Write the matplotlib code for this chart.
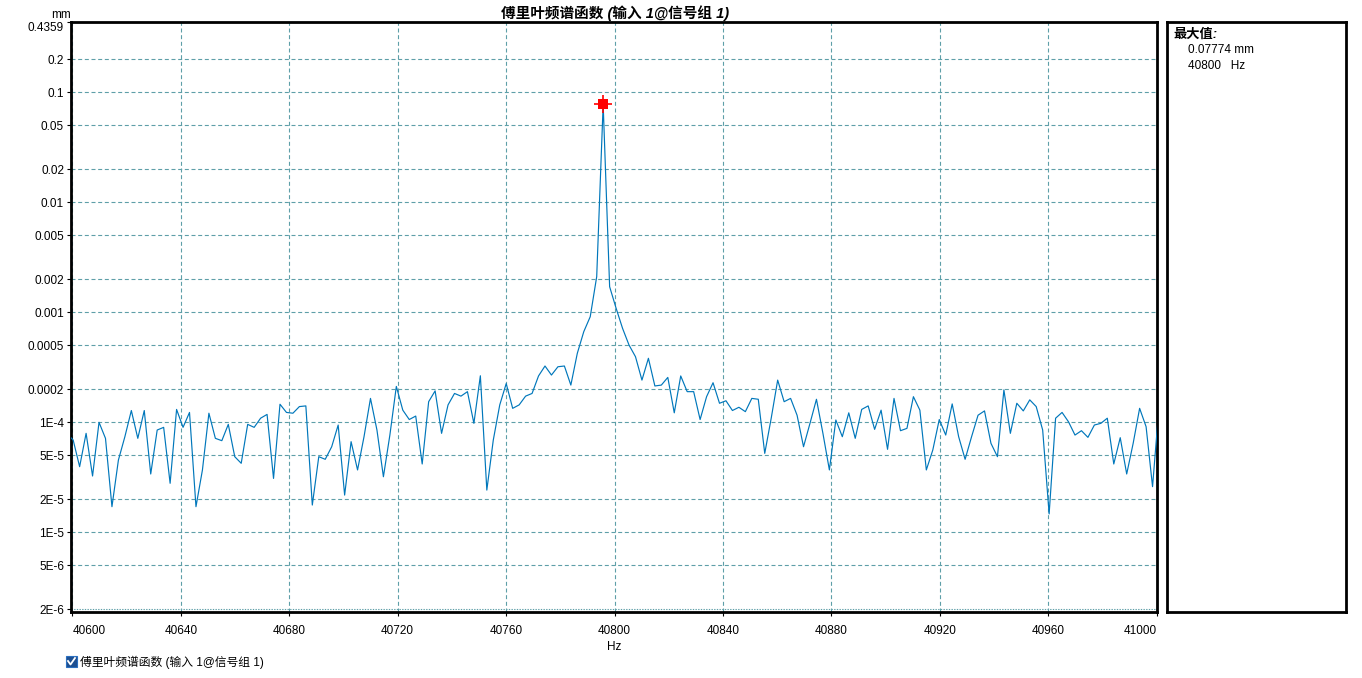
import numpy as np
import matplotlib
matplotlib.use("Agg")
import matplotlib.pyplot as plt
from matplotlib.patches import Rectangle
from matplotlib.lines import Line2D

FAMILY = ['Liberation Sans', 'Noto Sans CJK SC', 'DejaVu Sans']
plt.rcParams['font.family'] = FAMILY

# ---------------- data ----------------
bin_width_hz = 2.384185791015625
first_bin = 17028
amplitude_mm = [
    7.94e-5, 6.90e-5, 3.95e-5, 7.94e-5, 3.25e-5, 1.00e-4, 7.15e-5, 1.71e-5, 4.54e-5, 7.40e-5,
    1.28e-4, 7.15e-5, 1.28e-4, 3.39e-5, 8.51e-5, 9.00e-5, 2.79e-5, 1.31e-4, 9.00e-5, 1.23e-4,
    1.71e-5, 3.69e-5, 1.21e-4, 7.15e-5, 6.81e-5, 9.58e-5, 4.87e-5, 4.24e-5, 9.58e-5, 9.00e-5,
    1.09e-4, 1.18e-4, 3.09e-5, 1.46e-4, 1.23e-4, 1.21e-4, 1.39e-4, 1.41e-4, 1.77e-5, 4.87e-5,
    4.61e-5, 6.00e-5, 9.45e-5, 2.18e-5, 6.67e-5, 3.69e-5, 7.40e-5, 1.65e-4, 8.51e-5, 3.20e-5,
    7.66e-5, 2.12e-4, 1.29e-4, 1.06e-4, 1.14e-4, 4.18e-5, 1.54e-4, 1.93e-4, 7.94e-5, 1.44e-4,
    1.83e-4, 1.73e-4, 1.90e-4, 9.79e-5, 2.65e-4, 2.42e-5, 6.90e-5, 1.44e-4, 2.25e-4, 1.34e-4,
    1.44e-4, 1.73e-4, 1.83e-4, 2.64e-4, 3.25e-4, 2.69e-4, 3.20e-4, 3.25e-4, 2.18e-4, 4.24e-4,
    6.67e-4, 9.13e-4, 2.11e-3, 0.07774, 1.71e-3, 1.09e-3, 7.15e-4, 5.04e-4, 3.95e-4, 2.42e-4,
    3.82e-4, 2.14e-4, 2.18e-4, 2.56e-4, 1.22e-4, 2.64e-4, 1.90e-4, 1.90e-4, 1.06e-4, 1.71e-4,
    2.29e-4, 1.49e-4, 1.57e-4, 1.28e-4, 1.37e-4, 1.25e-4, 1.65e-4, 1.62e-4, 5.22e-5, 1.09e-4,
    2.42e-4, 1.54e-4, 1.65e-4, 1.16e-4, 6.00e-5, 9.79e-5, 1.62e-4, 7.94e-5, 3.69e-5, 1.05e-4,
    7.40e-5, 1.22e-4, 7.15e-5, 1.31e-4, 1.41e-4, 8.63e-5, 1.29e-4, 5.68e-5, 1.65e-4, 8.39e-5,
    8.81e-5, 1.71e-4, 1.29e-4, 3.69e-5, 5.60e-5, 1.06e-4, 7.66e-5, 1.47e-4, 7.40e-5, 4.61e-5,
    7.40e-5, 1.16e-4, 1.27e-4, 6.44e-5, 4.87e-5, 1.97e-4, 7.94e-5, 1.49e-4, 1.27e-4, 1.60e-4,
    1.39e-4, 8.51e-5, 1.47e-5, 1.09e-4, 1.23e-4, 1.01e-4, 7.66e-5, 8.39e-5, 7.30e-5, 9.45e-5,
    9.79e-5, 1.09e-4, 4.18e-5, 7.25e-5, 3.39e-5, 6.44e-5, 1.34e-4, 9.13e-5, 2.60e-5, 1.39e-4,
]
freq_hz = (first_bin + np.arange(len(amplitude_mm))) * bin_width_hz

peak_value = 0.07774
peak_label_hz = "40800"

x_ticks = [40600, 40640, 40680, 40720, 40760, 40800, 40840, 40880, 40920, 40960, 41000]
y_ticks = [0.4359, 0.2, 0.1, 0.05, 0.02, 0.01, 0.005, 0.002, 0.001, 0.0005, 0.0002,
           1e-4, 5e-5, 2e-5, 1e-5, 5e-6, 2e-6]
y_tick_labels = ['0.4359', '0.2', '0.1', '0.05', '0.02', '0.01', '0.005', '0.002', '0.001',
                 '0.0005', '0.0002', '1E-4', '5E-5', '2E-5', '1E-5', '5E-6', '2E-6']

title = "傅里叶频谱函数 (输入 1@信号组 1)"
legend_label = "傅里叶频谱函数 (输入 1@信号组 1)"

# ---------------- figure ----------------
W, H = 1362, 678
fig = plt.figure(figsize=(W / 100, H / 100), dpi=100)
fig.patch.set_facecolor('white')

def fx(px):
    return px / W

def fy(py):
    return 1 - py / H

ax = fig.add_axes([fx(71), fy(612), fx(1157) - fx(71), fy(22) - fy(612)])
ax.set_yscale('log')
ax.set_xlim(40599.5, 41000.1)
ax.set_ylim(1.886e-6, 0.4359)

grid_color = '#5e9fa8'
for xt in x_ticks:
    ax.axvline(xt, color=grid_color, lw=0.8, dashes=(3.6, 2.4), zorder=1)
for yt in y_ticks[1:-1]:
    ax.axhline(yt, color=grid_color, lw=0.8, dashes=(3.6, 2.4), zorder=1)
ax.axhline(y_ticks[-1], color=grid_color, lw=0.8, dashes=(1.2, 1.2), zorder=1)

ax.plot(freq_hz, amplitude_mm, color='#0077bb', lw=0.85, zorder=3)

ipk = int(np.argmax(amplitude_mm))
ax.plot([freq_hz[ipk]], [peak_value], marker='+', color='red', markersize=13,
        markeredgewidth=1.2, zorder=4)
ax.plot([freq_hz[ipk]], [peak_value], marker='s', color='red', markersize=6.5,
        markeredgewidth=0, zorder=5)

ax.set_xticks(x_ticks)
ax.set_xticklabels([str(t) for t in x_ticks])
ax.set_yticks(y_ticks)
ax.set_yticklabels(y_tick_labels)
ax.yaxis.set_minor_locator(matplotlib.ticker.NullLocator())
ax.tick_params(axis='both', labelsize=8.5, length=3, width=0.8, colors='black')
ax.tick_params(axis='x', pad=6)
ax.tick_params(axis='y', pad=2)
xl = ax.get_xticklabels()
xl[0].set_horizontalalignment('left')
xl[-1].set_horizontalalignment('right')
yl = ax.get_yticklabels()
yl[0].set_verticalalignment('top')
for s in ax.spines.values():
    s.set_linewidth(2)
    s.set_color('black')
ax.set_xlabel('Hz', fontsize=8.5, labelpad=3)

fig.text(fx(61), fy(15), 'mm', fontsize=8.5, ha='center', va='center')
fig.text(fx(615), fy(13), title, fontsize=10.5, fontweight='bold', fontstyle='italic',
         ha='center', va='center')

# info box
bx = fig.add_axes([fx(1167), fy(612), fx(1346) - fx(1167), fy(22) - fy(612)])
bx.set_xticks([])
bx.set_yticks([])
for s in bx.spines.values():
    s.set_linewidth(2)
    s.set_color('black')
fig.text(fx(1173), fy(35), '最大值:', fontsize=9.5, fontweight='bold', fontstyle='italic',
         ha='left', va='center')
fig.text(fx(1188), fy(50), f'{peak_value:.5f} mm', fontsize=8.5, ha='left', va='center')
fig.text(fx(1188), fy(66), f'{peak_label_hz}   Hz', fontsize=8.5, ha='left', va='center')

# legend checkbox
fig.add_artist(Rectangle((fx(66), fy(667)), fx(11), 11 / H, transform=fig.transFigure,
                         facecolor='#1d4f91', edgecolor='#2a6fc0', lw=0.8))
fig.add_artist(Line2D([fx(68), fx(70.5), fx(75)], [fy(661), fy(664.5), fy(658)],
                      transform=fig.transFigure, color='white', lw=1.3))
fig.text(fx(80), fy(662), legend_label, fontsize=8.5, ha='left', va='center')

fig.savefig('out.png', dpi=100, facecolor='white')
